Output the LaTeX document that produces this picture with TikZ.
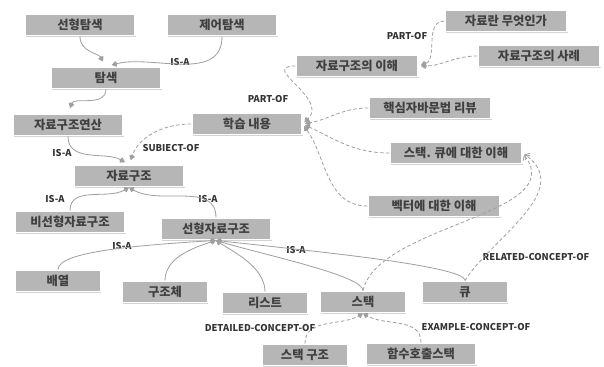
\documentclass[tikz,border=0pt]{standalone}
\usepackage{fontspec}
\setmainfont{Noto Sans CJK KR}
\usetikzlibrary{shapes,arrows.meta,shadows}
\definecolor{boxgray}{RGB}{182,182,182}
\definecolor{txtgray}{RGB}{64,64,64}
\definecolor{linegray}{RGB}{160,160,160}
\tikzstyle{block} = [rectangle, draw=white, line width=1.3pt, fill=boxgray,
    text=txtgray, font=\fontsize{10.5}{12}\selectfont\bfseries,
    minimum width=3.3cm, minimum height=0.64cm, inner sep=0pt,
    drop shadow={opacity=0.35, shadow xshift=0.6pt, shadow yshift=-0.8pt}]
\tikzstyle{smallblock} = [block, minimum width=2.55cm]
\tikzstyle{wideblock} = [block, minimum width=3.65cm]
\tikzstyle{widerblock} = [block, minimum width=3.95cm]
\tikzstyle{isa} = [draw=linegray, line width=0.7pt, -{Kite[length=5pt,width=5pt]}]
\tikzstyle{partof} = [isa, densely dashed]
\tikzstyle{related} = [draw=linegray, line width=0.7pt, densely dashed, -{Straight Barb[length=3pt,width=7pt]}]
\tikzstyle{tag} = [font=\fontsize{8}{9}\selectfont\bfseries, text=black!80, inner sep=1pt]

\begin{document}
\begin{tikzpicture}[x=0.03cm, y=-0.03cm]
    \useasboundingbox (0,0) rectangle (604,367);
    % Place nodes
    \node [block] (seqsearch) at (80,25) {선형탐색};
    \node [block] (ctrlsearch) at (222,25) {제어탐색};
    \node [block] (search) at (106,78) {탐색};
    \node [block] (dsop) at (68,125) {자료구조연산};
    \node [block] (study) at (247,124) {학습 내용};
    \node [block] (ds) at (129,176) {자료구조};
    \node [block] (nonlinear) at (70,222) {비선형자료구조};
    \node [block] (linear) at (216,229) {선형자료구조};
    \node [smallblock] (array) at (58,281) {배열};
    \node [smallblock] (struct) at (165,292) {구조체};
    \node [smallblock] (list) at (265,303) {리스트};
    \node [smallblock] (stack) at (363,302) {스택};
    \node [smallblock] (queue) at (465,292) {큐};
    \node [smallblock] (stackstruct) at (305,355) {스택 구조};
    \node [block] (callstack) at (421,354) {함수호출스택};
    \node [wideblock] (dsunder) at (357,66) {자료구조의 이해};
    \node [wideblock] (whatis) at (506,21) {자료란 무엇인가};
    \node [wideblock] (dsexample) at (539,56) {자료구조의 사례};
    \node [wideblock] (javareview) at (430,108) {핵심자바문법 리뷰};
    \node [widerblock] (stackqueue) at (456,153) {스택. 큐에 대한 이해};
    \node [widerblock] (vector) at (434,206) {벡터에 대한 이해};
    % Edge labels
    \node [tag] (isa1) at (180,62) {IS-A};
    \node [tag] (partof1) at (407,36) {PART-OF};
    \node [tag] (partof2) at (268,99) {PART-OF};
    \node [tag] (isa2) at (62,153) {IS-A};
    \node [tag] (subjectof) at (171,148) {SUBIECT-OF};
    \node [tag] (isa3) at (55,199) {IS-A};
    \node [tag] (isa4) at (208,199) {IS-A};
    \node [tag] (isa5) at (122,246) {IS-A};
    \node [tag] (isa6) at (296,250) {IS-A};
    \node [tag] (relatedof) at (536,257) {RELATED-CONCEPT-OF};
    \node [tag] (detailedof) at (260,328) {DETAILED-CONCEPT-OF};
    \node [tag] (exampleof) at (476,327) {EXAMPLE-CONCEPT-OF};
    % Draw edges
    \draw [isa, shorten >=5pt] (seqsearch.south) to[out=-90, in=120] (search.north);
    \draw [isa, shorten >=5pt] (ctrlsearch.south) to[out=-90, in=15] (search.north);
    \draw [isa, shorten >=5pt] (search.south) to[out=-90, in=70] (dsop.north);
    \draw [isa, shorten >=4pt] (dsop.south) to[out=-90, in=150] (ds.north);
    \draw [partof, shorten >=4pt] (study.west) to[out=180, in=70] (ds.north);
    \draw [isa] (nonlinear.north) to[out=90, in=-150] (ds.south);
    \draw [isa] (linear.north) to[out=90, in=-30] (ds.south);
    \draw [isa] (array.north) .. controls +(0,-18) and +(-80,5) .. (linear.south);
    \draw [isa] (struct.north) .. controls +(0,-22) and +(-25,8) .. (linear.south);
    \draw [isa] (list.north) .. controls +(0,-25) and +(15,10) .. (linear.south);
    \draw [isa] (stack.north) .. controls +(0,-15) and +(50,15) .. (linear.south);
    \draw [isa] (queue.north) .. controls +(0,-15) and +(90,10) .. (linear.south);
    \draw [partof] (stackstruct.north) to[out=90, in=-150] (stack.south);
    \draw [partof] (callstack.north) to[out=90, in=-30] (stack.south);
    \draw [related, shorten >=2pt] (stack.north) .. controls +(15,-66) and +(48,62) .. (stackqueue.east);
    \draw [related, shorten >=2pt] (queue.north) .. controls +(25,-41) and +(53,37) .. (stackqueue.east);
    \draw [partof, shorten >=2pt] (dsunder.west) to[out=180, in=45, looseness=1.6] (study.east);
    \draw [partof, shorten >=2pt] (javareview.west) to[out=180, in=10] (study.east);
    \draw [partof, shorten >=2pt] (stackqueue.west) to[out=180, in=-25] (study.east);
    \draw [partof, shorten >=2pt] (vector.west) to[out=180, in=-55] (study.east);
    \draw [partof, shorten >=2pt] (whatis.west) to[out=180, in=20] (dsunder.east);
    \draw [partof, shorten >=2pt] (dsexample.west) to[out=180, in=0] (dsunder.east);
\end{tikzpicture}
\end{document}
